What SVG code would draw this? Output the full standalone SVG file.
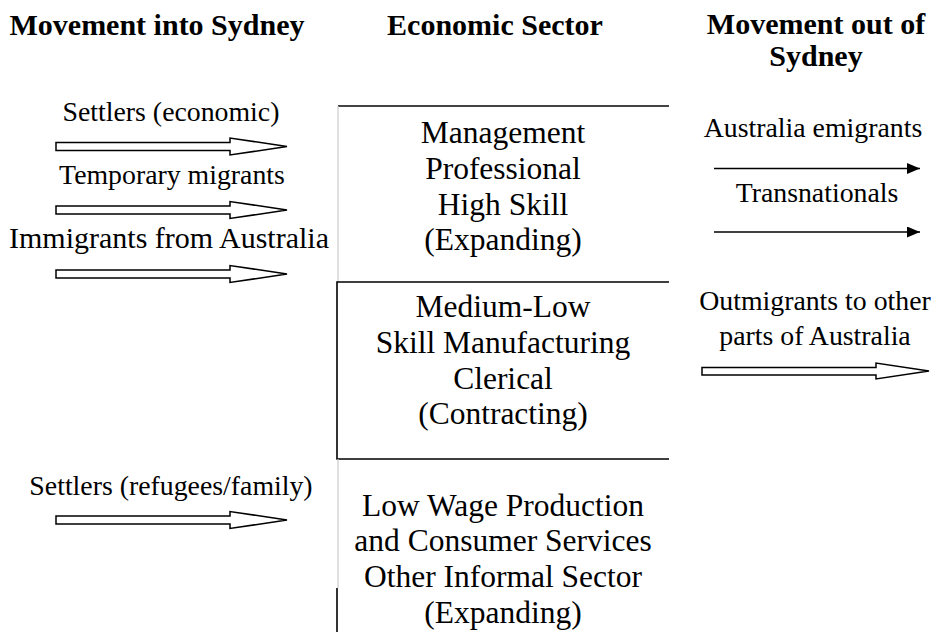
<svg xmlns="http://www.w3.org/2000/svg" width="936" height="632" viewBox="0 0 936 632">
  <style>
    text { font-family: "Liberation Serif", "Times New Roman", serif; fill: #000; }
    .head { font-size: 30px; font-weight: bold; text-anchor: middle; }
    .lbl { font-size: 27.8px; text-anchor: middle; }
    .sector { font-size: 31.5px; text-anchor: middle; }
    .hollow { fill: #fff; stroke: #000; stroke-width: 1.5; stroke-linejoin: miter; }
    .thin { stroke: #000; stroke-width: 1.5; fill: none; }
  </style>
  <defs>
    <marker id="solidHead" viewBox="0 0 13 11" refX="13" refY="5.5" markerWidth="13" markerHeight="11" markerUnits="userSpaceOnUse" orient="auto">
      <path d="M0,0 L13,5.5 L0,11 Z" fill="#000"/>
    </marker>
  </defs>
  <rect width="936" height="632" fill="#fff"/>

  <!-- column headings -->
  <g id="headings">
    <text class="head" x="157" y="35">Movement into Sydney</text>
    <text class="head" x="495" y="35">Economic Sector</text>
    <text class="head" x="816" y="34">Movement out of</text>
    <text class="head" x="816" y="66">Sydney</text>
  </g>

  <!-- economic sector boxes -->
  <g id="sector-high">
    <line x1="338" y1="106" x2="669" y2="106" stroke="#444" stroke-width="2"/>
    <line x1="338" y1="106" x2="338" y2="282" stroke="#ccc" stroke-width="1.2"/>
    <text class="sector" x="503" y="143">Management</text>
    <text class="sector" x="503" y="179">Professional</text>
    <text class="sector" x="503" y="215">High Skill</text>
    <text class="sector" x="503" y="250">(Expanding)</text>
  </g>
  <g id="sector-medium">
    <path d="M669,282 H337 V459 H669" fill="none" stroke="#000" stroke-width="1.6"/>
    <text class="sector" x="503" y="317">Medium-Low</text>
    <text class="sector" x="503" y="353">Skill Manufacturing</text>
    <text class="sector" x="503" y="389">Clerical</text>
    <text class="sector" x="503" y="424">(Contracting)</text>
  </g>
  <g id="sector-low">
    <line x1="338" y1="459" x2="338" y2="588" stroke="#ccc" stroke-width="1.2"/>
    <line x1="337" y1="588" x2="337" y2="632" stroke="#000" stroke-width="1.6"/>
    <text class="sector" x="503" y="516">Low Wage Production</text>
    <text class="sector" x="503" y="551">and Consumer Services</text>
    <text class="sector" x="503" y="587">Other Informal Sector</text>
    <text class="sector" x="503" y="623">(Expanding)</text>
  </g>

  <!-- inflows -->
  <g id="in-settlers-economic">
    <text class="lbl" x="171" y="121">Settlers (economic)</text>
  </g>
  <g id="in-temporary">
    <text class="lbl" x="172" y="184">Temporary migrants</text>
  </g>
  <g id="in-immigrants-australia">
    <text class="lbl" x="169" y="248" style="font-size:30px">Immigrants from Australia</text>
  </g>
  <g id="in-settlers-refugees">
    <text class="lbl" x="171" y="495">Settlers (refugees/family)</text>
  </g>

  <!-- outflows -->
  <g id="out-emigrants">
    <text class="lbl" x="813" y="137">Australia emigrants</text>
  </g>
  <g id="out-transnationals">
    <text class="lbl" x="817" y="202">Transnationals</text>
  </g>
  <g id="out-interstate">
    <text class="lbl" x="815" y="310">Outmigrants to other</text>
    <text class="lbl" x="815" y="345">parts of Australia</text>
  </g>

  <!-- connectors -->
  <g id="connectors">
    <path class="hollow" d="M56,142.5 H230 V138 L287,146.5 L230,155 V150.5 H56 Z"/>
    <path class="hollow" d="M56,206 H230 V201.5 L287,210 L230,218.5 V214 H56 Z"/>
    <path class="hollow" d="M56,270 H230 V265.5 L287,274 L230,282.5 V278 H56 Z"/>
    <path class="hollow" d="M56,516 H230 V511.5 L287,520 L230,528.5 V524 H56 Z"/>
    <path class="hollow" d="M702,367.5 H876 V363 L929,371 L876,379 V375 H702 Z"/>
    <line class="thin" x1="714" y1="168.5" x2="920" y2="168.5" marker-end="url(#solidHead)"/>
    <line class="thin" x1="714" y1="232" x2="920" y2="232" marker-end="url(#solidHead)"/>
  </g>
</svg>
